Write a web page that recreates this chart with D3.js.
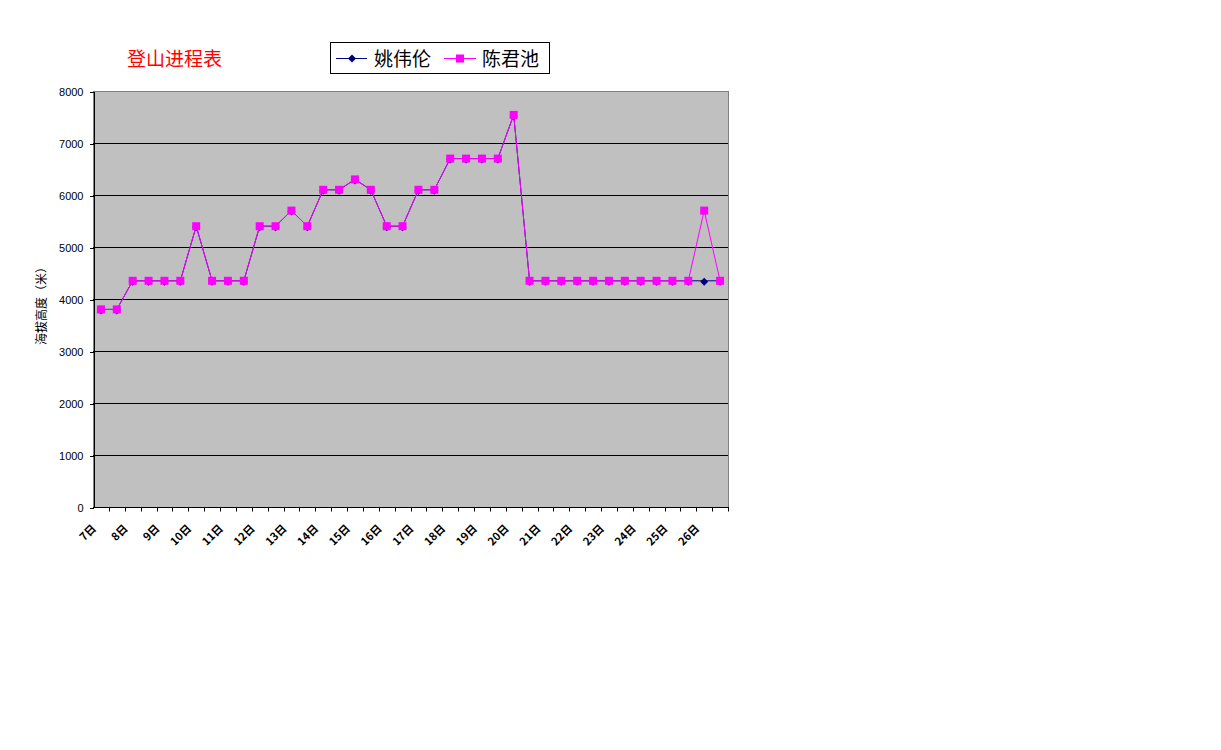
<!DOCTYPE html>
<html>
<head>
<meta charset="utf-8">
<script src="https://cdn.jsdelivr.net/npm/d3@7"></script>
<style>
  body { margin: 0; background: #fff; }
  svg { display: block; }
</style>
</head>
<body>
<div id="chart"></div>
<script>
// days, one label for every two points
var days = ["7日", "8日", "9日", "10日", "11日", "12日", "13日", "14日", "15日", "16日",
  "17日", "18日", "19日", "20日", "21日", "22日", "23日", "24日", "25日", "26日"];
var categories = [];
days.forEach(function (d) { categories.push(d, d + "b"); });

var yTicks = [0, 1000, 2000, 3000, 4000, 5000, 6000, 7000, 8000];

var chenValues = [3800, 3800, 4350, 4350, 4350, 4350, 5400, 4350, 4350, 4350,
  5400, 5400, 5700, 5400, 6100, 6100, 6300, 6100, 5400, 5400,
  6100, 6100, 6700, 6700, 6700, 6700, 7540, 4350, 4350, 4350,
  4350, 4350, 4350, 4350, 4350, 4350, 4350, 4350, 5700, 4350];
var yaoValues = [3800, 3800, 4350, 4350, 4350, 4350, 5400, 4350, 4350, 4350,
  5400, 5400, 5700, 5400, 6100, 6100, 6300, 6100, 5400, 5400,
  6100, 6100, 6700, 6700, 6700, 6700, 7540, 4350, 4350, 4350,
  4350, 4350, 4350, 4350, 4350, 4350, 4350, 4350, 4350, 4350];

var cjk = "'Noto Sans CJK SC', 'Noto Sans', sans-serif";
var latin = "'Liberation Sans', Arial, sans-serif";

var svg = d3.select("#chart").append("svg")
  .attr("width", 1221)
  .attr("height", 750);

var plot = {left: 93, right: 728, top: 91, bottom: 507};

var x = d3.scaleBand()
  .domain(categories)
  .range([plot.left, plot.right]);

var y = d3.scaleLinear()
  .domain([0, 8000])
  .range([plot.bottom, plot.top]);

// plot area
svg.append("rect")
  .attr("x", plot.left + 0.5).attr("y", plot.top + 0.5)
  .attr("width", plot.right - plot.left).attr("height", plot.bottom - plot.top)
  .attr("fill", "#c0c0c0")
  .attr("stroke", "#808080")
  .attr("stroke-width", 1)
  .attr("shape-rendering", "crispEdges");

// gridlines
svg.append("g")
  .selectAll("line")
  .data(yTicks.slice(1, -1))
  .join("line")
  .attr("x1", plot.left).attr("x2", plot.right)
  .attr("y1", function (d) { return y(d) + 0.5; })
  .attr("y2", function (d) { return y(d) + 0.5; })
  .attr("stroke", "#000")
  .attr("shape-rendering", "crispEdges");

// y axis
var yAxis = svg.append("g")
  .attr("transform", "translate(" + (plot.left + 0.5) + ",0.5)")
  .call(d3.axisLeft(y).tickValues(yTicks).tickFormat(d3.format("d"))
    .tickSize(4).tickPadding(6).tickSizeOuter(0));
yAxis.selectAll("text")
  .style("font-family", latin)
  .style("font-size", "11px")
  .attr("fill", "#000");
yAxis.selectAll("path, line").attr("stroke", "#000").attr("shape-rendering", "crispEdges");

// x axis, ticks on category boundaries
var xAxis = svg.append("g")
  .attr("transform", "translate(0," + (plot.bottom + 0.5) + ")");
xAxis.append("line")
  .attr("x1", plot.left).attr("x2", plot.right + 1)
  .attr("stroke", "#000")
  .attr("shape-rendering", "crispEdges");
xAxis.selectAll(".tk")
  .data(categories)
  .join("line")
  .attr("class", "tk")
  .attr("x1", function (d) { return Math.round(x(d) + x.bandwidth()) + 0.5; })
  .attr("x2", function (d) { return Math.round(x(d) + x.bandwidth()) + 0.5; })
  .attr("y1", 0).attr("y2", 4)
  .attr("stroke", "#000");

xAxis.selectAll("text")
  .data(days)
  .join("text")
  .attr("transform", function (d) {
    var cx = x(d) + x.bandwidth() / 2 - 7;
    return "translate(" + cx + ",19) rotate(-45)";
  })
  .attr("text-anchor", "end")
  .attr("dy", "0.35em")
  .style("font-family", cjk)
  .style("font-size", "11px")
  .style("font-weight", "bold")
  .text(function (d) { return d; });

// y label
svg.append("text")
  .attr("transform", "translate(46,303) rotate(-90)")
  .attr("text-anchor", "middle")
  .style("font-family", cjk)
  .style("font-size", "12px")
  .text("海拔高度（米）");

function cxOf(i) { return x(categories[i]) + x.bandwidth() / 2; }

var line = d3.line()
  .x(function (d, i) { return cxOf(i); })
  .y(function (d) { return y(d); });

// 姚伟伦 (navy, drawn under)
svg.append("path")
  .datum(yaoValues)
  .attr("fill", "none")
  .attr("stroke", "#000080")
  .attr("stroke-width", 1)
  .attr("d", line);
svg.append("g")
  .selectAll("path")
  .data(yaoValues)
  .join("path")
  .attr("transform", function (d, i) { return "translate(" + cxOf(i) + "," + (y(d) + 1) + ")"; })
  .attr("d", "M0,-4L4,0L0,4L-4,0Z")
  .attr("fill", "#000080");

// 陈君池 (magenta)
svg.append("path")
  .datum(chenValues)
  .attr("fill", "none")
  .attr("stroke", "#ff00ff")
  .attr("stroke-width", 1)
  .attr("d", line);
svg.append("g")
  .selectAll("rect")
  .data(chenValues)
  .join("rect")
  .attr("x", function (d, i) { return cxOf(i) - 4; })
  .attr("y", function (d) { return y(d) - 4; })
  .attr("width", 8).attr("height", 8)
  .attr("fill", "#ff00ff");

// title
svg.append("text")
  .attr("x", 127).attr("y", 66)
  .attr("fill", "#ff0000")
  .style("font-family", cjk)
  .style("font-size", "19px")
  .text("登山进程表");

// legend
var lg = svg.append("g");
lg.append("rect")
  .attr("x", 330.5).attr("y", 42.5)
  .attr("width", 219).attr("height", 31)
  .attr("fill", "#fff").attr("stroke", "#000");
lg.append("line").attr("x1", 336).attr("x2", 367).attr("y1", 58.5).attr("y2", 58.5).attr("stroke", "#000080");
lg.append("path").attr("transform", "translate(352,58.5)").attr("d", "M0,-4L4,0L0,4L-4,0Z").attr("fill", "#000080");
lg.append("text").attr("x", 374).attr("y", 66).style("font-family", cjk).style("font-size", "19px").text("姚伟伦");
lg.append("line").attr("x1", 444).attr("x2", 476).attr("y1", 58.5).attr("y2", 58.5).attr("stroke", "#ff00ff");
lg.append("rect").attr("x", 456).attr("y", 54.5).attr("width", 8).attr("height", 8).attr("fill", "#ff00ff");
lg.append("text").attr("x", 482).attr("y", 66).style("font-family", cjk).style("font-size", "19px").text("陈君池");
</script>
</body>
</html>
